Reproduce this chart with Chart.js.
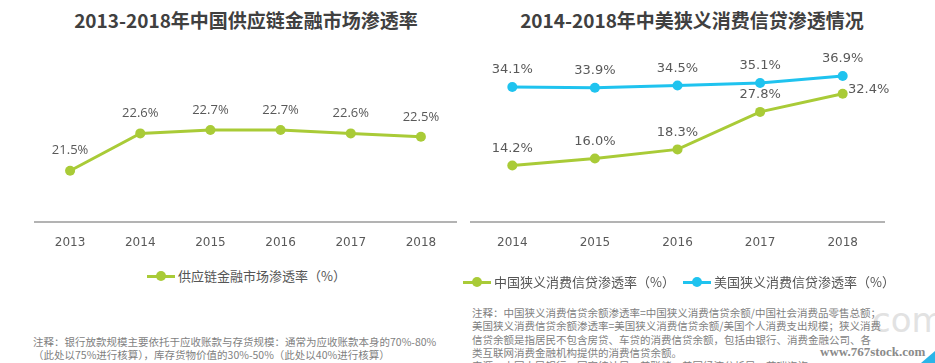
<!DOCTYPE html>
<html>
<head>
<meta charset="utf-8">
<script src="https://cdn.jsdelivr.net/npm/chart.js@4"></script>
<style>
  body { margin: 0; width: 935px; height: 363px; overflow: hidden; background: #fff; position: relative; font-family: 'Noto Sans CJK SC', sans-serif; }
  .box { position: absolute; }
  .title { position: absolute; top: 7px; font-size: 19px; font-weight: bold; color: #404040; white-space: nowrap; text-align: center; width: 470px; line-height: 26px; }
  .legend { position: absolute; font-size: 13px; color: #555; white-space: nowrap; line-height: 16px; }
  .mark { display: inline-block; position: relative; width: 28px; height: 10px; vertical-align: middle; margin-right: 3px; top: -1px; }
  .mark::before { content: ''; position: absolute; left: 0; right: 0; top: 4px; height: 3px; background: var(--c); }
  .mark::after { content: ''; position: absolute; left: 9px; top: 0; width: 10px; height: 10px; border-radius: 50%; background: var(--c); }
  .note { position: absolute; font-size: 10.5px; color: #7f7f7f; white-space: nowrap; line-height: 13.3px; }
  .wm { position: absolute; font-family: 'Liberation Serif', serif; font-weight: bold; font-size: 13px; color: #8a8a8a; left: 820px; top: 344px; }
  .wm2 { position: absolute; font-family: 'DejaVu Sans', sans-serif; font-size: 34px; color: #e2e2e2; left: 872px; top: 300px; }
  .tri { position: absolute; right: 0; bottom: 0; width: 0; height: 0; border-left: 14px solid transparent; border-bottom: 12px solid #2ab5e8; }
</style>
</head>
<body>
<div class="wm2">com</div>
<div class="title" style="left:11px;">2013-2018年中国供应链金融市场渗透率</div>
<div class="title" style="left:457px;">2014-2018年中美狭义消费信贷渗透情况</div>

<div class="box" style="left:0;top:0;width:470px;height:265px;"><canvas id="left-chart"></canvas></div>
<div class="box" style="left:466px;top:0;width:469px;height:265px;"><canvas id="right-chart"></canvas></div>

<div class="legend" style="left:147px;top:268px;"><span class="mark" style="--c:#a9cb37"></span>供应链金融市场渗透率（%）</div>
<div class="legend" style="left:463px;top:274px;"><span class="mark" style="--c:#a9cb37"></span>中国狭义消费信贷渗透率（%）</div>
<div class="legend" style="left:683px;top:274px;"><span class="mark" style="--c:#1fc3ef"></span>美国狭义消费信贷渗透率（%）</div>

<div class="note" style="left:33px;top:335px;">
  <div>注释：银行放款规模主要依托于应收账款与存货规模：通常为应收账款本身的70%-80%</div>
  <div>（此处以75%进行核算），库存货物价值的30%-50%（此处以40%进行核算）</div>
  <div>来源：艾瑞数据核算模型。</div>
</div>
<div class="note" style="left:472px;top:306px;">
  <div>注释：中国狭义消费信贷余额渗透率=中国狭义消费信贷余额/中国社会消费品零售总额；</div>
  <div>美国狭义消费信贷余额渗透率=美国狭义消费信贷余额/美国个人消费支出规模；狭义消费</div>
  <div>信贷余额是指居民不包含房贷、车贷的消费信贷余额，包括由银行、消费金融公司、各</div>
  <div>类互联网消费金融机构提供的消费信贷余额。</div>
  <div>来源：中国人民银行，国家统计局，美联储，美国经济分析局，艾瑞咨询。</div>
</div>
<div class="wm">www.767stock.com</div>
<div class="tri"></div>

<script>
// left chart data
const scfYears = ['2013', '2014', '2015', '2016', '2017', '2018'];
const scfRate = [21.5, 22.6, 22.7, 22.7, 22.6, 22.5];

// right chart data
const creditYears = ['2014', '2015', '2016', '2017', '2018'];
const chinaRate = [14.2, 16.0, 18.3, 27.8, 32.4];
const usRate = [34.1, 33.9, 34.5, 35.1, 36.9];

const GREEN = '#a9cb37';
const BLUE = '#1fc3ef';

/**
 * Draws the value labels above every point
 */
const valueLabels = {
  id: 'valueLabels',
  afterDatasetsDraw(chart, args, opts) {
    const ctx = chart.ctx;
    ctx.save();
    ctx.font = opts.font;
    ctx.fillStyle = '#595959';
    ctx.textAlign = 'center';
    ctx.textBaseline = 'middle';
    chart.data.datasets.forEach((ds, i) => {
      chart.getDatasetMeta(i).data.forEach((pt, j) => {
        let dx = 0;
        let dy = opts.offset;
        // last green label sits to the right of the point
        if (opts.shiftLast && i === 0 && j === ds.data.length - 1) {
          dx = 26;
          dy = -4;
        }
        ctx.fillText(ds.data[j].toFixed(1) + '%', pt.x + dx, pt.y + dy);
      });
    });
    ctx.restore();
  },
};

function lineDataset(values, color) {
  return {
    data: values,
    borderColor: color,
    backgroundColor: color,
    borderWidth: 3,
    pointRadius: 5,
    pointHoverRadius: 5,
    pointBackgroundColor: color,
    pointBorderWidth: 0,
    tension: 0,
  };
}

function xAxis() {
  return {
    offset: true,
    grid: { display: false, drawTicks: false },
    border: { display: true, color: '#b3b3b3', width: 2 },
    ticks: { color: '#595959', padding: 14, font: { family: 'DejaVu Sans', size: 12 } },
  };
}

// Render left chart
new Chart(document.getElementById('left-chart').getContext('2d'), {
  type: 'line',
  data: { labels: scfYears, datasets: [lineDataset(scfRate, GREEN)] },
  options: {
    responsive: true,
    maintainAspectRatio: false,
    animation: false,
    layout: { padding: { left: 35, right: 14, top: 52, bottom: 1 } },
    plugins: {
      legend: { display: false },
      tooltip: { enabled: false },
      valueLabels: { font: '13px "Open Sans"', offset: -20 },
    },
    scales: {
      x: xAxis(),
      y: { display: false, min: 20, max: 25 },
    },
  },
  plugins: [valueLabels],
});

// Render right chart
new Chart(document.getElementById('right-chart').getContext('2d'), {
  type: 'line',
  data: { labels: creditYears, datasets: [lineDataset(chinaRate, GREEN), lineDataset(usRate, BLUE)] },
  options: {
    responsive: true,
    maintainAspectRatio: false,
    animation: false,
    layout: { padding: { left: 0, right: 51, top: 44, bottom: 1 } },
    plugins: {
      legend: { display: false },
      tooltip: { enabled: false },
      valueLabels: { font: '13px "DejaVu Sans"', offset: -17, shiftLast: true },
    },
    scales: {
      x: xAxis(),
      y: { display: false, min: 0, max: 45 },
    },
  },
  plugins: [valueLabels],
});
</script>
</body>
</html>
